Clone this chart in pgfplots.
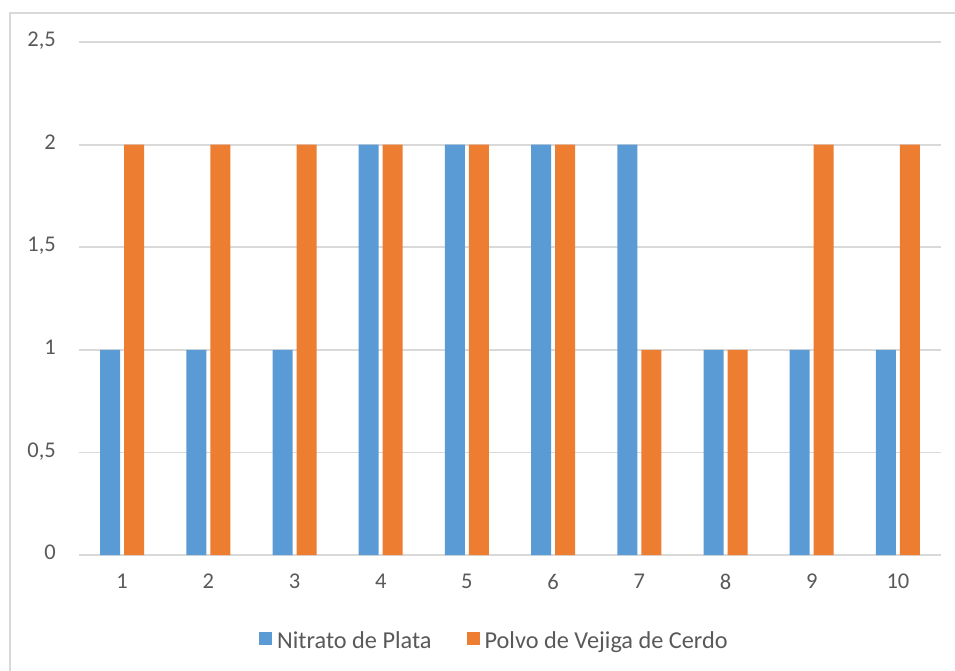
\documentclass[border=0pt]{standalone}
\usepackage{fontspec}
\setmainfont{Carlito}
\usepackage{pgfplots}
\pgfplotsset{compat=1.18}

\definecolor{serieA}{HTML}{5B9BD5}
\definecolor{serieB}{HTML}{ED7D31}
\definecolor{gridgray}{HTML}{D9D9D9}
\definecolor{textgray}{HTML}{595959}

\begin{document}
\begin{tikzpicture}
% page frame (chart area)
\useasboundingbox (0bp,0bp) rectangle (955bp,-671bp);
\draw[gridgray, line width=1.8bp] (10bp,-672bp) -- (10bp,-13bp) -- (956bp,-13bp);

\begin{axis}[
  at={(79bp,-555bp)}, anchor=south west,
  scale only axis, width=862bp, height=513bp,
  xmin=0.5, xmax=10.5, ymin=0, ymax=2.5,
  ybar=4bp, bar width=20bp,
  every axis plot post/.append style={
    legend image code/.code={\fill[##1] (0bp,-3.5bp) rectangle (13bp,9.5bp);
      \path (16bp,0bp);}},
  xtick={1,2,3,4,5,6,7,8,9,10},
  ytick={0,0.5,1,1.5,2,2.5},
  /pgf/number format/assume math mode=true,
  /pgf/number format/use comma,
  major tick length=0pt,
  axis line style={draw=none},
  ymajorgrids,
  grid style={draw=gridgray, line width=1.8bp},
  tick label style={font=\fontsize{22.5bp}{26bp}\selectfont, text=textgray, inner sep=0pt},
  yticklabel style={anchor=east, text depth=0pt, xshift=-23bp, yshift=2.5bp},
  xticklabel style={anchor=north, yshift=-19bp},
  legend columns=2,
  legend style={draw=none, fill=none, at={(0.482,-0.168)}, anchor=center,
    font=\fontsize{24.3bp}{28bp}\selectfont, text=textgray,
    /tikz/every even column/.append style={column sep=33bp}},
  legend cell align=left,
]
\addplot[fill=serieA, draw=none] coordinates {
  (1,1) (2,1) (3,1) (4,2) (5,2) (6,2) (7,2) (8,1) (9,1) (10,1)};
\addplot[fill=serieB, draw=none] coordinates {
  (1,2) (2,2) (3,2) (4,2) (5,2) (6,2) (7,1) (8,1) (9,2) (10,2)};
\legend{Nitrato de Plata, Polvo de Vejiga de Cerdo}
\end{axis}
\end{tikzpicture}
\end{document}
